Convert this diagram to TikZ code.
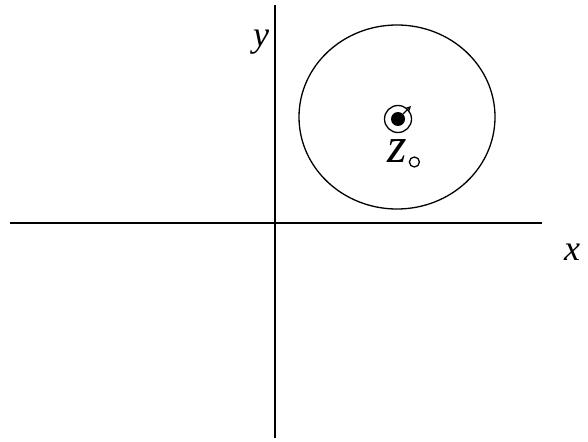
\documentclass[tikz,border=0pt]{standalone}
\usepackage{amsmath,amssymb}
\usepackage{fontspec}
\setmainfont{Liberation Serif}
\usepackage{xcolor}
\usepackage{tikz}
\begin{document}
\begin{tikzpicture}[x=1pt,y=-1pt,line width=1.3pt,
    lbl/.style={inner sep=0pt,font=\fontsize{36}{42}\selectfont}]
    \useasboundingbox (0,0) rectangle (588,441);
    % Axes
    \coordinate (xl) at (10,223);
    \coordinate (xr) at (542,223);
    \coordinate (yb) at (275,438);
    \coordinate (yt) at (275,5);
    \draw (xl) -- (xr);
    \draw (yb) -- (yt);
    \node[lbl] (xlab) at (572,252) {\textit{x}};
    \node[lbl] (ylab) at (261,42) {\textit{y}};

    % Region around the point
    \draw (397,117) ellipse (98 and 92);

    % Point z0
    \coordinate (z0) at (398,119);
    \draw (z0) circle (13.5);
    \fill (z0) circle (7);
    \draw[line width=1.2pt,-stealth] (403,114) -- (411,106);
    \node[lbl,font=\fontsize{50}{56}\selectfont] (zlab) at (397,151) {\textit{z}};
    \draw (zlab.east) ++(7,11) circle (5);
\end{tikzpicture}
\end{document}
